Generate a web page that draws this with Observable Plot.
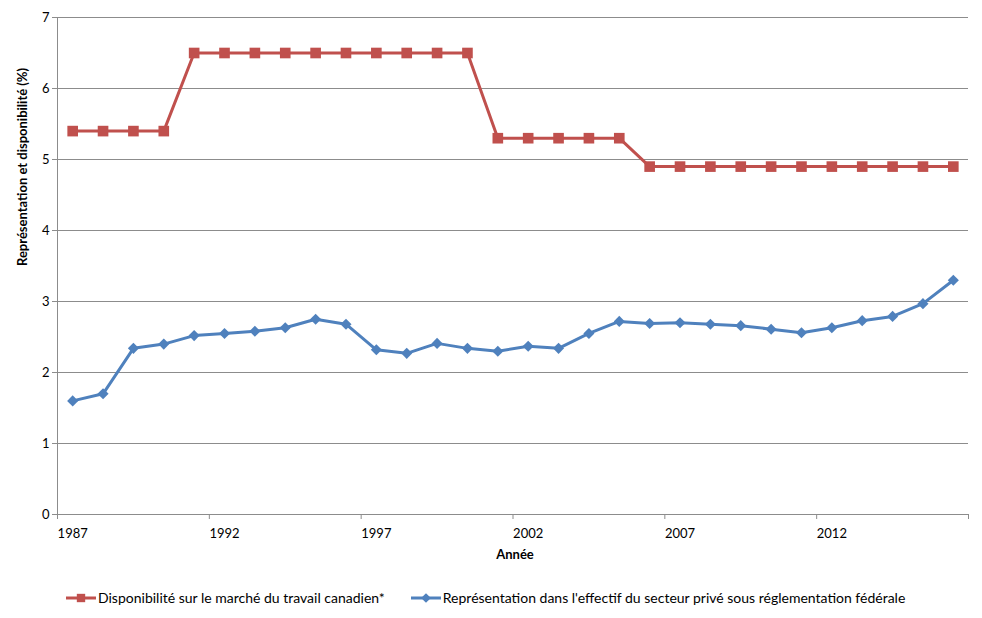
<!DOCTYPE html>
<html><head><meta charset="utf-8">
<script src="https://cdn.jsdelivr.net/npm/d3@7"></script>
<script src="https://cdn.jsdelivr.net/npm/@observablehq/plot@0.6"></script>
<style>
body{margin:0;background:#fff;font-family:Lato,"Open Sans",sans-serif;}
#legend{display:flex;font-size:14px;color:#000;margin-top:14px;}
.item{display:flex;align-items:center;}
</style></head><body>
<div id="chart"></div>
<div id="legend"></div>
<script>
const years = d3.range(1987, 2017);
const disponibilite = [5.4,5.4,5.4,5.4,6.5,6.5,6.5,6.5,6.5,6.5,6.5,6.5,6.5,6.5,5.3,5.3,5.3,5.3,5.3,4.9,4.9,4.9,4.9,4.9,4.9,4.9,4.9,4.9,4.9,4.9];
const representation = [1.60,1.70,2.34,2.40,2.52,2.55,2.58,2.63,2.75,2.68,2.32,2.27,2.41,2.34,2.30,2.37,2.34,2.55,2.72,2.69,2.70,2.68,2.66,2.61,2.56,2.63,2.73,2.79,2.97,3.30];
const tickYears = [1987,1992,1997,2002,2007,2012];
const yTicks = [0,1,2,3,4,5,6,7];
const seriesNames = ["Disponibilité sur le marché du travail canadien*","Représentation dans l'effectif du secteur privé sous réglementation fédérale"];
const colors = ["#C0504D","#4F81BD"];

const red = years.map((y,i)=>({year:y, v:disponibilite[i]}));
const blue = years.map((y,i)=>({year:y, v:representation[i]}));
const boundaries = d3.range(1986.5, 2017, 5).concat([2016.5]);

const plot = Plot.plot({
  width: 982, height: 575,
  marginLeft: 57, marginRight: 14, marginTop: 17, marginBottom: 61,
  style:{fontFamily:"Lato, 'Open Sans', sans-serif", fontSize:"13px", color:"#000", background:"#fff"},
  x:{domain:[1986.5,2016.5]},
  y:{domain:[0,7]},
  marks:[
    Plot.gridY(yTicks.slice(1), {stroke:"#8c8c8c", strokeOpacity:1, strokeWidth:1}),
    Plot.ruleX([1986.5], {stroke:"#8c8c8c"}),
    Plot.ruleY([0], {stroke:"#8c8c8c"}),
    Plot.axisY(yTicks, {tickSize:5, stroke:"#8c8c8c", tickPadding:3, fontSize:13, tickFormat:d=>String(d), label:null}),
    Plot.axisX(boundaries, {tickSize:5, stroke:"#8c8c8c", tickFormat:()=>"", label:null}),
    Plot.axisX(tickYears, {tickSize:0, tickPadding:14, tickFormat:d=>String(d), fontSize:13, label:null}),
    Plot.text(["Année"], {frameAnchor:"bottom", dy:44, dx:2, fontWeight:"bold", fontSize:13}),
    Plot.text(["Représentation et disponibilité (%)"], {frameAnchor:"left", dx:-35, rotate:-90, fontWeight:"bold", fontSize:13}),
    Plot.line(red, {x:"year", y:"v", stroke:colors[0], strokeWidth:3}),
    Plot.dot(red, {x:"year", y:"v", symbol:"square", r:6, fill:colors[0], stroke:null}),
    Plot.line(blue, {x:"year", y:"v", stroke:colors[1], strokeWidth:3}),
    Plot.dot(blue, {x:"year", y:"v", symbol:"diamond2", r:5, fill:colors[1], stroke:null})
  ]
});
document.getElementById("chart").append(plot);

const leg = document.getElementById("legend");
seriesNames.forEach((n,i)=>{
  const it = document.createElement("div"); it.className="item";
  it.style.marginLeft = i===0 ? "66px" : "26px";
  const s = d3.create("svg").attr("width",30).attr("height",14);
  s.append("line").attr("x1",0).attr("x2",30).attr("y1",7).attr("y2",7).attr("stroke",colors[i]).attr("stroke-width",3);
  s.append("path").attr("transform","translate(15,7)").attr("d",d3.symbol(i===0?d3.symbolSquare:d3.symbolDiamond2, i===0?70:60)()).attr("fill",colors[i]);
  it.append(s.node());
  const t = document.createElement("span"); t.textContent=n; t.style.marginLeft="2px";
  it.append(t); leg.append(it);
});
</script></body></html>
